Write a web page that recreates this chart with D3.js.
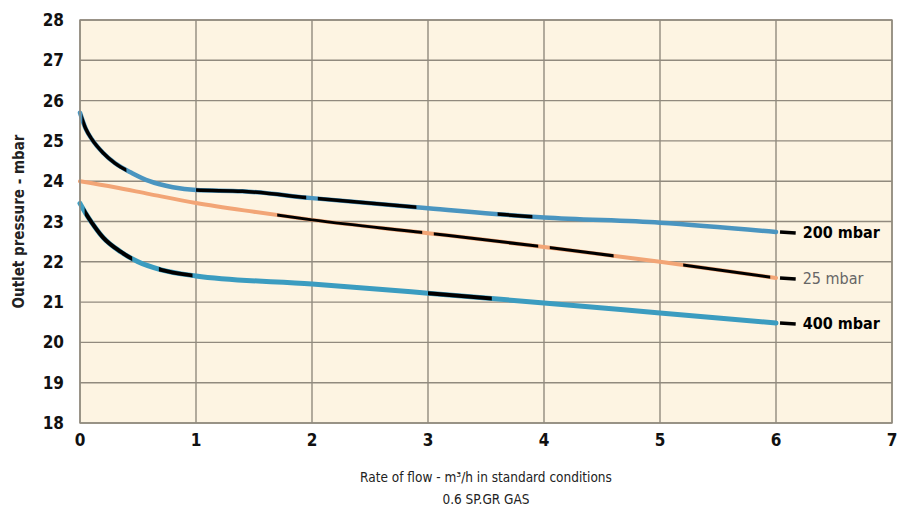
<!DOCTYPE html>
<html>
<head>
<meta charset="utf-8">
<script src="https://cdn.jsdelivr.net/npm/d3@7"></script>
<style>
  body { margin: 0; background: #fff; }
  svg { display: block; }
  .tick-label { font-family: "DejaVu Sans", sans-serif; font-stretch: condensed; font-weight: bold; font-size: 17px; fill: #111; }
  .title { font-family: "DejaVu Sans", sans-serif; font-stretch: condensed; font-size: 13.5px; fill: #222; }
</style>
</head>
<body>
<div id="chart"></div>
<script>
const width = 899;
const height = 513;

// flow rate (m3/h) and outlet pressure (mbar) per inlet pressure
const flow200 = [0, 0.05, 0.1, 0.2, 0.3, 0.45, 0.6, 0.8, 1, 1.4, 2, 3, 4, 5, 6];
const pres200 = [25.7, 25.3, 25.05, 24.7, 24.45, 24.2, 24.0, 23.85, 23.78, 23.75, 23.58, 23.33, 23.1, 22.97, 22.74];

const flow25 = [0, 0.3, 0.6, 1, 1.5, 2, 3, 4, 5, 6];
const pres25 = [24.0, 23.85, 23.68, 23.46, 23.24, 23.04, 22.71, 22.37, 22.0, 21.6];

const flow400 = [0, 0.05, 0.1, 0.2, 0.35, 0.5, 0.7, 1, 2, 3, 4, 5, 6];
const pres400 = [23.45, 23.2, 22.98, 22.6, 22.25, 22.0, 21.8, 21.65, 21.45, 21.22, 20.98, 20.73, 20.48];

// flow ranges where the printed curve shows black instead of colour
const black200 = [[0.02, 0.4], [1.0, 1.95], [2.05, 2.9], [3.6, 3.9]];
const black25 = [[1.7, 2.95], [3.05, 3.95], [4.05, 4.6], [5.2, 5.95]];
const black400 = [[0.04, 0.45], [0.68, 0.97], [3.0, 3.55]];

const seriesNames = ["200 mbar", "25 mbar", "400 mbar"];
const xTicks = [0, 1, 2, 3, 4, 5, 6, 7];
const yTicks = [18, 19, 20, 21, 22, 23, 24, 25, 26, 27, 28];

const xLabel = "Rate of flow - m\u00b3/h in standard conditions";
const xSubLabel = "0.6 SP.GR GAS";
const yLabel = "Outlet pressure - mbar";

const margin = { top: 20, right: 7, bottom: 90, left: 80 };

const svg = d3.select("#chart")
    .append("svg")
    .attr("width", width)
    .attr("height", height);

const x = d3.scaleLinear().domain([0, 7]).range([margin.left, width - margin.right]);
const y = d3.scaleLinear().domain([18, 28]).range([height - margin.bottom, margin.top]);

// plot background
svg.append("rect")
    .attr("x", x(0))
    .attr("y", y(28))
    .attr("width", x(7) - x(0))
    .attr("height", y(18) - y(28))
    .attr("fill", "#fdf4e2");

// grid
svg.append("g")
    .selectAll("line")
    .data(yTicks)
    .enter()
    .append("line")
    .attr("x1", x(0)).attr("x2", x(7))
    .attr("y1", d => y(d)).attr("y2", d => y(d))
    .attr("stroke", "#918a7e")
    .attr("stroke-width", 1.4);

svg.append("g")
    .selectAll("line")
    .data(xTicks)
    .enter()
    .append("line")
    .attr("x1", d => x(d)).attr("x2", d => x(d))
    .attr("y1", y(18)).attr("y2", y(28))
    .attr("stroke", "#918a7e")
    .attr("stroke-width", 1.4);

// axes labels
svg.append("g")
    .selectAll("text")
    .data(yTicks)
    .enter()
    .append("text")
    .attr("class", "tick-label")
    .attr("x", x(0) - 16)
    .attr("y", d => y(d) + 6)
    .attr("text-anchor", "end")
    .text(d => d);

svg.append("g")
    .selectAll("text")
    .data(xTicks)
    .enter()
    .append("text")
    .attr("class", "tick-label")
    .attr("x", d => x(d))
    .attr("y", y(18) + 23)
    .attr("text-anchor", "middle")
    .text(d => d);

svg.append("text")
    .attr("class", "title")
    .attr("x", (x(0) + x(7)) / 2)
    .attr("y", 482)
    .attr("text-anchor", "middle")
    .text(xLabel);

svg.append("text")
    .attr("class", "title")
    .attr("x", (x(0) + x(7)) / 2)
    .attr("y", 504)
    .attr("text-anchor", "middle")
    .text(xSubLabel);

svg.append("text")
    .attr("class", "title")
    .attr("transform", `translate(24, ${(y(18) + y(28)) / 2}) rotate(-90)`)
    .attr("text-anchor", "middle")
    .style("font-weight", "bold")
    .style("font-size", "15px")
    .text(yLabel);

const line = d3.line()
    .x(d => x(d[0]))
    .y(d => y(d[1]))
    .curve(d3.curveMonotoneX);

const series = [
    { name: seriesNames[0], flow: flow200, pres: pres200, black: black200, color: "#4a95c0", width: 4.5, labelColor: "#000", labelWeight: "bold" },
    { name: seriesNames[1], flow: flow25, pres: pres25, black: black25, color: "#f2a576", width: 4, labelColor: "#666", labelWeight: "normal" },
    { name: seriesNames[2], flow: flow400, pres: pres400, black: black400, color: "#3b9cc0", width: 5, labelColor: "#000", labelWeight: "bold" }
];

series.forEach(s => {
    const pts = s.flow.map((f, i) => [f, s.pres[i]]);
    const g = svg.append("g");

    g.append("path")
        .datum(pts)
        .attr("fill", "none")
        .attr("stroke", s.color)
        .attr("stroke-width", s.width)
        .attr("stroke-linecap", "round")
        .attr("d", line);

    // black print overlay, clipped to the given flow ranges
    s.black.forEach((r, j) => {
        const id = `clip-${s.name.replace(/\W/g, "")}-${j}`;
        svg.append("clipPath")
            .attr("id", id)
            .append("rect")
            .attr("x", x(r[0]))
            .attr("y", 0)
            .attr("width", x(r[1]) - x(r[0]))
            .attr("height", height);
        g.append("path")
            .datum(pts)
            .attr("fill", "none")
            .attr("stroke", "#000")
            .attr("stroke-width", s.width - 1)
            .attr("clip-path", `url(#${id})`)
            .attr("d", line);
    });

    const last = pts[pts.length - 1];
    g.append("line")
        .attr("x1", x(last[0]) + 4)
        .attr("x2", x(last[0] + 0.17))
        .attr("y1", y(last[1]))
        .attr("y2", y(last[1]) + 1)
        .attr("stroke", "#000")
        .attr("stroke-width", 3.5);

    g.append("text")
        .attr("class", "tick-label")
        .attr("x", x(last[0] + 0.23))
        .attr("y", y(last[1]) + 6)
        .style("font-size", "16px")
        .style("font-weight", s.labelWeight)
        .style("fill", s.labelColor)
        .text(s.name);
});

// plot frame
svg.append("rect")
    .attr("x", x(0))
    .attr("y", y(28))
    .attr("width", x(7) - x(0))
    .attr("height", y(18) - y(28))
    .attr("fill", "none")
    .attr("stroke", "#918a7e")
    .attr("stroke-width", 1.4);
</script>
</body>
</html>
